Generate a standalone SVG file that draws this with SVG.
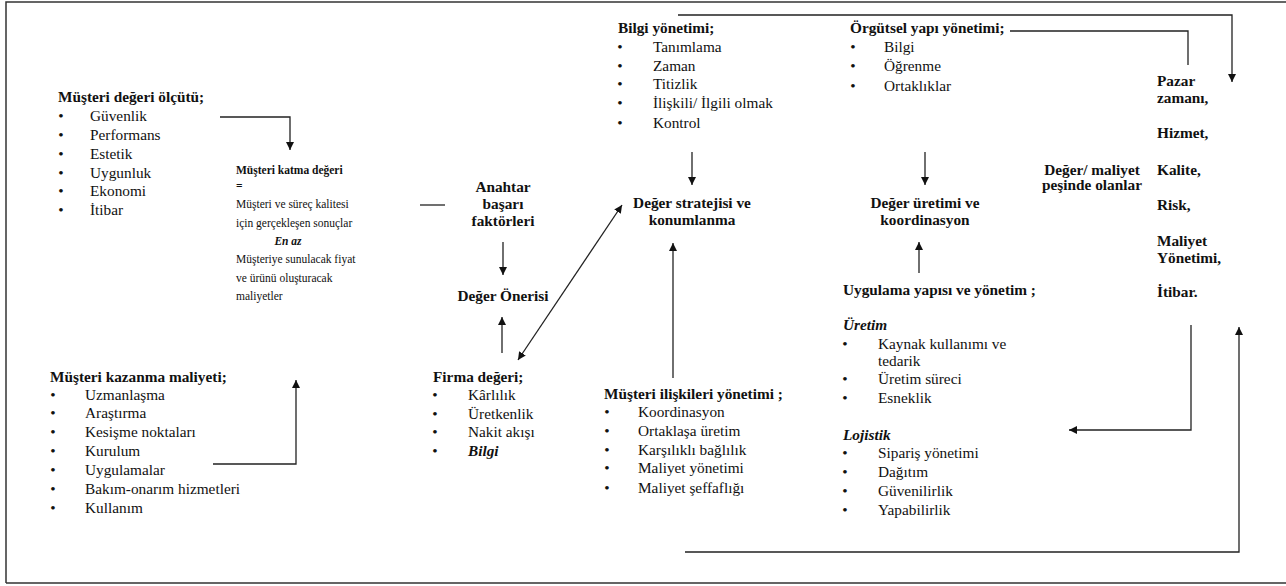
<svg xmlns="http://www.w3.org/2000/svg" width="1286" height="586" viewBox="0 0 1286 586">
<style>
text{font-family:"Liberation Serif","Times New Roman",serif;font-size:15.3px;fill:#111}
.b{font-weight:bold}
.bi{font-weight:bold;font-style:italic}
.c{text-anchor:middle}
.k text{font-size:11.5px}
.conn path{fill:none;stroke:#222;stroke-width:1.3}
</style>
<defs>
<marker id="ah" viewBox="0 0 10 10" refX="10" refY="5" markerWidth="8" markerHeight="8" markerUnits="userSpaceOnUse" orient="auto-start-reverse">
<path d="M0,0 L10,5 L0,10 z" fill="#111"/>
</marker>
</defs>
<rect width="1286" height="586" fill="#fff"/>
<path d="M6,583 V2 H1286 M6,583 H1286" fill="none" stroke="#333" stroke-width="1.5"/>

<g id="olcut">
<text class="b" x="58" y="102">Müşteri değeri ölçütü;</text>
<text class="c" x="61" y="121">•</text><text x="90" y="121">Güvenlik</text>
<text class="c" x="61" y="140">•</text><text x="90" y="140">Performans</text>
<text class="c" x="61" y="159">•</text><text x="90" y="159">Estetik</text>
<text class="c" x="61" y="178">•</text><text x="90" y="178">Uygunluk</text>
<text class="c" x="61" y="196">•</text><text x="90" y="196">Ekonomi</text>
<text class="c" x="61" y="215">•</text><text x="90" y="215">İtibar</text>
</g>

<g id="katma" class="k">
<text class="b" x="236" y="174">Müşteri katma değeri</text>
<text class="b" x="236" y="190">=</text>
<text x="236" y="208">Müşteri ve süreç kalitesi</text>
<text x="236" y="227">için gerçekleşen sonuçlar</text>
<text class="bi c" x="288" y="245">En az</text>
<text x="236" y="263">Müşteriye sunulacak fiyat</text>
<text x="236" y="282">ve ürünü oluşturacak</text>
<text x="236" y="300">maliyetler</text>
</g>

<g id="kazanma">
<text class="b" x="50" y="382">Müşteri kazanma maliyeti;</text>
<text class="c" x="53" y="400">•</text><text x="85" y="400">Uzmanlaşma</text>
<text class="c" x="53" y="418">•</text><text x="85" y="418">Araştırma</text>
<text class="c" x="53" y="437">•</text><text x="85" y="437">Kesişme noktaları</text>
<text class="c" x="53" y="456">•</text><text x="85" y="456">Kurulum</text>
<text class="c" x="53" y="475">•</text><text x="85" y="475">Uygulamalar</text>
<text class="c" x="53" y="494">•</text><text x="85" y="494">Bakım-onarım hizmetleri</text>
<text class="c" x="53" y="513">•</text><text x="85" y="513">Kullanım</text>
</g>

<g id="anahtar">
<text class="b c" x="503" y="192">Anahtar</text>
<text class="b c" x="503" y="209">başarı</text>
<text class="b c" x="503" y="226">faktörleri</text>
</g>

<g id="oneri">
<text class="b c" x="503" y="301">Değer Önerisi</text>
</g>

<g id="firma">
<text class="b" x="433" y="382">Firma değeri;</text>
<text class="c" x="435" y="400">•</text><text x="468" y="400">Kârlılık</text>
<text class="c" x="435" y="419">•</text><text x="468" y="419">Üretkenlik</text>
<text class="c" x="435" y="437">•</text><text x="468" y="437">Nakit akışı</text>
<text class="c" x="435" y="456">•</text><text class="bi" x="468" y="456">Bilgi</text>
</g>

<g id="bilgi">
<text class="b" x="618" y="33">Bilgi yönetimi;</text>
<text class="c" x="620" y="52">•</text><text x="653" y="52">Tanımlama</text>
<text class="c" x="620" y="71">•</text><text x="653" y="71">Zaman</text>
<text class="c" x="620" y="89">•</text><text x="653" y="89">Titizlik</text>
<text class="c" x="620" y="108">•</text><text x="653" y="108">İlişkili/ İlgili olmak</text>
<text class="c" x="620" y="128">•</text><text x="653" y="128">Kontrol</text>
</g>

<g id="strateji">
<text class="b c" x="692" y="208">Değer stratejisi ve</text>
<text class="b c" x="692" y="225">konumlanma</text>
</g>

<g id="iliski">
<text class="b" x="604" y="399">Müşteri ilişkileri yönetimi ;</text>
<text class="c" x="607" y="417">•</text><text x="638" y="417">Koordinasyon</text>
<text class="c" x="607" y="436">•</text><text x="638" y="436">Ortaklaşa üretim</text>
<text class="c" x="607" y="455">•</text><text x="638" y="455">Karşılıklı bağlılık</text>
<text class="c" x="607" y="473">•</text><text x="638" y="473">Maliyet yönetimi</text>
<text class="c" x="607" y="493">•</text><text x="638" y="493">Maliyet şeffaflığı</text>
</g>

<g id="orgutsel">
<text class="b" x="850" y="33">Örgütsel yapı yönetimi;</text>
<text class="c" x="853" y="52">•</text><text x="884" y="52">Bilgi</text>
<text class="c" x="853" y="71">•</text><text x="884" y="71">Öğrenme</text>
<text class="c" x="853" y="91">•</text><text x="884" y="91">Ortaklıklar</text>
</g>

<g id="uretim">
<text class="b c" x="925" y="208">Değer üretimi ve</text>
<text class="b c" x="925" y="225">koordinasyon</text>
</g>

<g id="uygulama">
<text class="b" x="843" y="295">Uygulama yapısı ve yönetim ;</text>
<text class="bi" x="843" y="330">Üretim</text>
<text class="c" x="845" y="349">•</text><text x="878" y="349">Kaynak kullanımı ve</text>
<text x="878" y="366">tedarik</text>
<text class="c" x="845" y="384">•</text><text x="878" y="384">Üretim süreci</text>
<text class="c" x="845" y="403">•</text><text x="878" y="403">Esneklik</text>
<text class="bi" x="843" y="440">Lojistik</text>
<text class="c" x="845" y="458">•</text><text x="878" y="458">Sipariş yönetimi</text>
<text class="c" x="845" y="477">•</text><text x="878" y="477">Dağıtım</text>
<text class="c" x="845" y="496">•</text><text x="878" y="496">Güvenilirlik</text>
<text class="c" x="845" y="515">•</text><text x="878" y="515">Yapabilirlik</text>
</g>

<g id="pesinde">
<text class="b c" x="1092" y="175">Değer/ maliyet</text>
<text class="b c" x="1092" y="190">peşinde olanlar</text>
</g>

<g id="faktorler">
<text class="b" x="1157" y="86">Pazar</text>
<text class="b" x="1157" y="103">zamanı,</text>
<text class="b" x="1157" y="138">Hizmet,</text>
<text class="b" x="1157" y="175">Kalite,</text>
<text class="b" x="1157" y="210">Risk,</text>
<text class="b" x="1157" y="246">Maliyet</text>
<text class="b" x="1157" y="263">Yönetimi,</text>
<text class="b" x="1157" y="297">İtibar.</text>
</g>

<g id="connectors" class="conn">
<path d="M220,117 H290 V150" marker-end="url(#ah)"/>
<path d="M213,464 H296 V380" marker-end="url(#ah)"/>
<path d="M420,205 H445"/>
<path d="M503,242 V275" marker-end="url(#ah)"/>
<path d="M502,353 V317" marker-end="url(#ah)"/>
<path d="M518,360 L622,205" marker-start="url(#ah)" marker-end="url(#ah)"/>
<path d="M692,152 V185" marker-end="url(#ah)"/>
<path d="M673,378 V243" marker-end="url(#ah)"/>
<path d="M925,152 V185" marker-end="url(#ah)"/>
<path d="M919,273 V242" marker-end="url(#ah)"/>
<path d="M678,15 H1232 V82" marker-end="url(#ah)"/>
<path d="M1010,31 H1188 V65"/>
<path d="M1191,325 V430 H1069" marker-end="url(#ah)"/>
<path d="M685,552 H1239 V327" marker-end="url(#ah)"/>
</g>
</svg>
